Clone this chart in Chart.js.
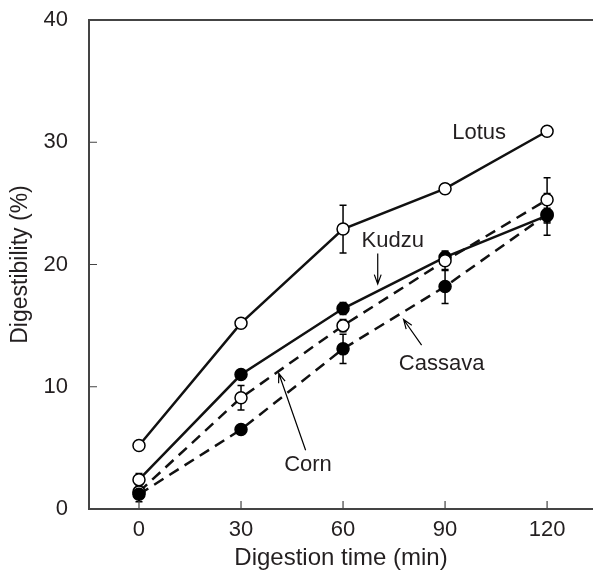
<!DOCTYPE html>
<html>
<head>
<meta charset="utf-8">
<script src="https://cdn.jsdelivr.net/npm/chart.js@4.4.1/dist/chart.umd.min.js"></script>
<style>
  html, body { margin: 0; padding: 0; background: #fff; }
  #wrap { width: 593px; height: 573px; }
</style>
</head>
<body>
<div id="wrap"><canvas id="chart" width="593" height="573"></canvas></div>
<script>
// digestion times (min)
const times = [0, 30, 60, 90, 120];
const xTicks = [0, 30, 60, 90, 120];
const yTicks = [0, 10, 20, 30, 40];

// digestibility (%)
const lotus   = [5.2, 15.2, 22.9, 26.2, 30.9];
const kudzu   = [2.4, 11.0, 16.4, 20.6, 24.0];
const corn    = [1.4, 9.1, 15.0, 20.3, 25.3];
const cassava = [1.2, 6.5, 13.1, 18.2, 24.1];

// error bar half widths
const lotusErr   = [0.3, 0.2, 1.95, 0.4, 0.2];
const kudzuErr   = [0.5, 0.3, 0.5, 0.4, 0.6];
const cornErr    = [0.3, 1.0, 0.5, 0.8, 1.8];
const cassavaErr = [0.6, 0.2, 1.2, 1.4, 1.7];

// text labels and arrows, in data units
const labelText = ["Lotus", "Kudzu", "Cassava", "Corn"];
const labelX    = [100, 74.6, 89, 49.7];
const labelY    = [30.8, 21.9, 11.9, 3.6];
const arrowFrom = [null, [70.2, 20.9], [83.1, 13.4], [49.0, 4.8]];
const arrowTo   = [null, [70.2, 18.4], [77.8, 15.5], [41.1, 11.1]];

const FONT = "'Liberation Sans', Arial, Helvetica, sans-serif";
const INK = "#231f20";

function pts(vals) {
  return vals.map((v, i) => ({ x: times[i], y: v }));
}

// order: lower number is drawn on top
const series = [
  { label: "Lotus", data: lotus, err: lotusErr, fill: "#fff", dash: [], order: 1 },
  { label: "Kudzu", data: kudzu, err: kudzuErr, fill: "#000", dash: [], order: 4, firstOpen: true },
  { label: "Corn", data: corn, err: cornErr, fill: "#fff", dash: [11, 7], order: 3 },
  { label: "Cassava", data: cassava, err: cassavaErr, fill: "#000", dash: [11, 7], order: 2 }
];

const errorBars = {
  id: "errorBars",
  beforeDatasetsDraw(chart) {
    const ctx = chart.ctx;
    const xs = chart.scales.x, ys = chart.scales.y;
    ctx.save();
    ctx.strokeStyle = "#000";
    ctx.lineWidth = 1.5;
    series.forEach(s => {
      s.data.forEach((v, i) => {
        const px = xs.getPixelForValue(times[i]);
        const top = ys.getPixelForValue(v + s.err[i]);
        const bot = ys.getPixelForValue(v - s.err[i]);
        ctx.beginPath();
        ctx.moveTo(px, top); ctx.lineTo(px, bot);
        ctx.moveTo(px - 3.5, top); ctx.lineTo(px + 3.5, top);
        ctx.moveTo(px - 3.5, bot); ctx.lineTo(px + 3.5, bot);
        ctx.stroke();
      });
    });
    ctx.restore();
  }
};

const frame = {
  id: "frame",
  afterDraw(chart) {
    const ctx = chart.ctx;
    const a = chart.chartArea;
    const xs = chart.scales.x, ys = chart.scales.y;
    ctx.save();
    ctx.strokeStyle = "#444";
    ctx.lineWidth = 2;
    ctx.beginPath();
    ctx.moveTo(a.right, a.top); ctx.lineTo(a.left, a.top);
    ctx.lineTo(a.left, a.bottom); ctx.lineTo(a.right, a.bottom);
    ctx.stroke();
    // inward ticks
    ctx.lineWidth = 1.2;
    ctx.beginPath();
    xTicks.forEach(t => {
      const px = xs.getPixelForValue(t);
      ctx.moveTo(px, a.bottom); ctx.lineTo(px, a.bottom - 8);
    });
    yTicks.slice(1, -1).forEach(t => {
      const py = ys.getPixelForValue(t);
      ctx.moveTo(a.left, py); ctx.lineTo(a.left + 8, py);
    });
    ctx.stroke();

    // labels and arrows
    ctx.fillStyle = INK;
    ctx.font = "22px " + FONT;
    ctx.textAlign = "center";
    ctx.textBaseline = "middle";
    labelText.forEach((t, i) => {
      ctx.fillText(t, xs.getPixelForValue(labelX[i]), ys.getPixelForValue(labelY[i]));
      if (!arrowFrom[i]) return;
      const x0 = xs.getPixelForValue(arrowFrom[i][0]), y0 = ys.getPixelForValue(arrowFrom[i][1]);
      const x1 = xs.getPixelForValue(arrowTo[i][0]), y1 = ys.getPixelForValue(arrowTo[i][1]);
      const ang = Math.atan2(y1 - y0, x1 - x0);
      ctx.strokeStyle = "#000";
      ctx.lineWidth = 1.2;
      ctx.beginPath();
      ctx.moveTo(x0, y0); ctx.lineTo(x1, y1);
      ctx.moveTo(x1 - 10 * Math.cos(ang - 0.35), y1 - 10 * Math.sin(ang - 0.35));
      ctx.lineTo(x1, y1);
      ctx.lineTo(x1 - 10 * Math.cos(ang + 0.35), y1 - 10 * Math.sin(ang + 0.35));
      ctx.stroke();
    });
    ctx.restore();
  }
};

function noPad(s) {
  s.paddingTop = 0; s.paddingBottom = 0; s.paddingLeft = 0; s.paddingRight = 0;
}

new Chart(document.getElementById("chart"), {
  type: "line",
  data: {
    datasets: series.map(s => ({
      label: s.label,
      data: pts(s.data),
      borderColor: "#111",
      borderWidth: 2.5,
      borderDash: s.dash,
      pointRadius: 6,
      pointHoverRadius: 6,
      pointBorderWidth: 1.5,
      pointBorderColor: "#000",
      pointBackgroundColor: ctx => (s.firstOpen && ctx.dataIndex === 0) ? "#fff" : s.fill,
      order: s.order
    }))
  },
  options: {
    responsive: false,
    animation: false,
    layout: { autoPadding: false, padding: { top: 20, right: 0, left: 0, bottom: 0 } },
    plugins: { legend: { display: false }, tooltip: { enabled: false } },
    scales: {
      x: {
        type: "linear",
        min: -14.7,
        max: 133.5,
        grid: { display: false, drawTicks: false },
        border: { display: false },
        afterBuildTicks: s => { s.ticks = xTicks.map(v => ({ value: v })); },
        afterFit: s => { s.height = 64; noPad(s); },
        ticks: { color: INK, padding: 8, font: { size: 22, family: FONT } },
        title: {
          display: true,
          text: "Digestion time (min)",
          color: INK,
          padding: { top: 0, bottom: 0 },
          font: { size: 24, family: FONT }
        }
      },
      y: {
        min: 0,
        max: 40,
        grid: { display: false, drawTicks: false },
        border: { display: false },
        afterBuildTicks: s => { s.ticks = yTicks.map(v => ({ value: v })); },
        afterFit: s => { s.width = 89; noPad(s); },
        ticks: { color: INK, padding: 21, font: { size: 22, family: FONT } },
        title: {
          display: true,
          text: "Digestibility (%)",
          color: INK,
          padding: { top: 7, bottom: 0 },
          font: { size: 23, family: FONT }
        }
      }
    }
  },
  plugins: [errorBars, frame]
});
</script>
</body>
</html>
